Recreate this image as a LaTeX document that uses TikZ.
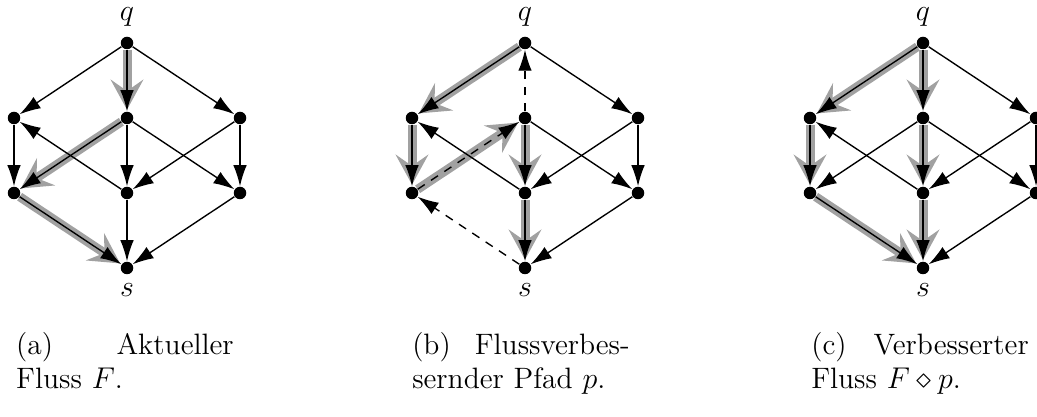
\documentclass[tikz,border=0pt]{standalone}
\usetikzlibrary{arrows.meta}
\definecolor{flowgray}{gray}{0.63}
\pgfdeclarelayer{bg}
\pgfsetlayers{bg,main}
\tikzset{
  vtx/.style={circle,fill=black,inner sep=0pt,minimum size=5pt},
  arc/.style={draw=black,line width=0.55pt,-{Latex[length=8.4pt,width=5.4pt]}},
  resarc/.style={arc,dash pattern=on 3.4pt off 3pt},
  flowarc/.style={draw=flowgray,line width=3.6pt,-{Stealth[length=12pt,width=13pt,inset=4.5pt]},shorten >=0.6pt},
  lbl/.style={inner sep=0pt},
  captext/.style={anchor=north,inner sep=0pt,text width=87pt,align=left},
}
\newcommand\mkgraph[2]{%
  \node[vtx,label={[lbl,label distance=3.6pt]above:$q$}] (#1q) at (#2,43) {};
  \node[vtx] (#1a) at (#2-113,118) {};
  \node[vtx] (#1b) at (#2,118) {};
  \node[vtx] (#1c) at (#2+113,118) {};
  \node[vtx] (#1d) at (#2-113,193) {};
  \node[vtx] (#1e) at (#2,193) {};
  \node[vtx] (#1f) at (#2+113,193) {};
  \node[vtx,label={[lbl,label distance=3.4pt]below:$s$}] (#1s) at (#2,268) {};
}
\begin{document}
\begin{tikzpicture}[x=0.4pt,y=-0.4pt,font=\fontsize{11.8}{13.4}\selectfont]
\clip (0,0) rectangle (1037,417);
\mkgraph{A}{127}
\mkgraph{B}{525}
\mkgraph{C}{923}
\begin{pgfonlayer}{bg}
% (a) current flow
\draw[flowarc] (Aq) -- (Ab);
\draw[flowarc] (Ab) -- (Ad);
\draw[flowarc] (Ad) -- (As);
\draw[arc] (Aq) -- (Aa);
\draw[arc] (Aq) -- (Ab);
\draw[arc] (Aq) -- (Ac);
\draw[arc] (Aa) -- (Ad);
\draw[arc] (Ab) -- (Ad);
\draw[arc] (Ab) -- (Ae);
\draw[arc] (Ab) -- (Af);
\draw[arc] (Ac) -- (Ae);
\draw[arc] (Ac) -- (Af);
\draw[arc] (Ae) -- (Aa);
\draw[arc] (Ad) -- (As);
\draw[arc] (Ae) -- (As);
\draw[arc] (Af) -- (As);
% (b) augmenting path
\draw[flowarc] (Bq) -- (Ba);
\draw[flowarc] (Ba) -- (Bd);
\draw[flowarc] (Bd) -- (Bb);
\draw[flowarc] (Bb) -- (Be);
\draw[flowarc] (Be) -- (Bs);
\draw[arc] (Bq) -- (Ba);
\draw[resarc] (Bb) -- (Bq);
\draw[arc] (Bq) -- (Bc);
\draw[arc] (Ba) -- (Bd);
\draw[resarc] (Bd) -- (Bb);
\draw[arc] (Bb) -- (Be);
\draw[arc] (Bb) -- (Bf);
\draw[arc] (Bc) -- (Be);
\draw[arc] (Bc) -- (Bf);
\draw[arc] (Be) -- (Ba);
\draw[resarc] (Bs) -- (Bd);
\draw[arc] (Be) -- (Bs);
\draw[arc] (Bf) -- (Bs);
% (c) improved flow
\draw[flowarc] (Cq) -- (Ca);
\draw[flowarc] (Cq) -- (Cb);
\draw[flowarc] (Ca) -- (Cd);
\draw[flowarc] (Cb) -- (Ce);
\draw[flowarc] (Cd) -- (Cs);
\draw[flowarc] (Ce) -- (Cs);
\draw[arc] (Cq) -- (Ca);
\draw[arc] (Cq) -- (Cb);
\draw[arc] (Cq) -- (Cc);
\draw[arc] (Ca) -- (Cd);
\draw[arc] (Cb) -- (Cd);
\draw[arc] (Cb) -- (Ce);
\draw[arc] (Cb) -- (Cf);
\draw[arc] (Cc) -- (Ce);
\draw[arc] (Cc) -- (Cf);
\draw[arc] (Ce) -- (Ca);
\draw[arc] (Cd) -- (Cs);
\draw[arc] (Ce) -- (Cs);
\draw[arc] (Cf) -- (Cs);
\end{pgfonlayer}
\node[captext] (capA) at (125,332) {(a)\hfill Aktueller\\Fluss $F$.};
\node[captext] (capB) at (521,332) {(b)\hfill Flussverbes-\\sernder Pfad $p$.};
\node[captext] (capC) at (920,332) {(c)\hfill Verbesserter\\Fluss $F\diamond p$.};
\end{tikzpicture}
\end{document}
